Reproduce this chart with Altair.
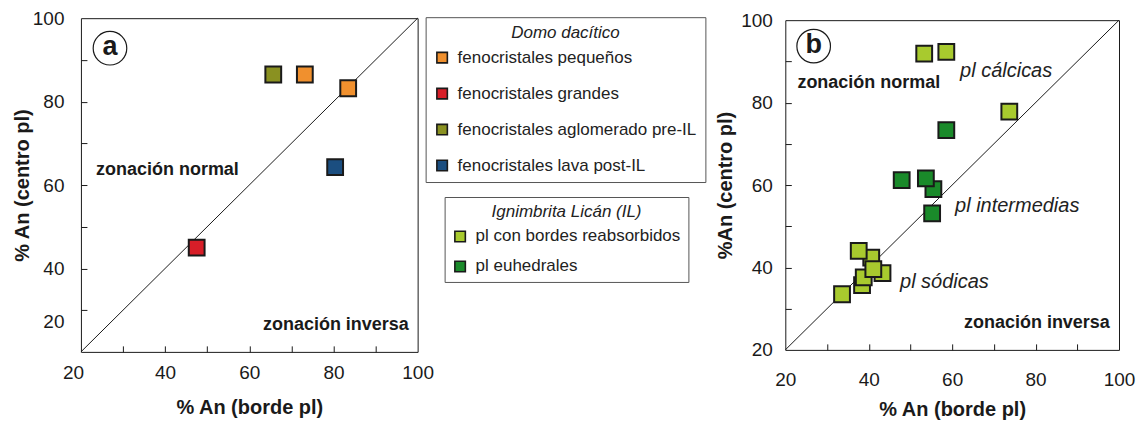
import altair as alt
import pandas as pd

# ---------------- data ----------------
# Panel a: Domo dacítico
a_cat = ["fenocristales pequeños", "fenocristales pequeños", "fenocristales grandes",
         "fenocristales aglomerado pre-IL", "fenocristales lava post-IL"]
a_borde = [73.2, 83.5, 47.5, 65.7, 80.4]
a_centro = [86.5, 83.2, 45.0, 86.5, 64.3]
domo_domain = ["fenocristales pequeños", "fenocristales grandes",
               "fenocristales aglomerado pre-IL", "fenocristales lava post-IL"]
domo_colors = ["#F0902E", "#D81E28", "#8A9121", "#1B4E80"]

# Panel b: Ignimbrita Licán
b_cat = ["pl con bordes reabsorbidos"] * 10 + ["pl euhedrales"] * 5
b_borde = [53.3, 58.6, 73.7, 40.6, 43.3, 38.4, 38.8, 37.6, 41.1, 33.6,
           58.6, 47.9, 55.5, 53.7, 55.2]
b_centro = [91.9, 92.3, 77.8, 42.4, 38.6, 35.7, 37.6, 44.0, 39.6, 33.5,
            73.3, 61.2, 59.0, 61.6, 53.1]
ign_domain = ["pl con bordes reabsorbidos", "pl euhedrales"]
ign_colors = ["#A8CA2E", "#1A8A2A"]

# 1:1 line and axes
diag = [20, 100]
tick_vals = [30, 40, 50, 60, 70, 80, 90]
label_vals = [20, 40, 60, 80, 100]

# annotations (data coordinates)
a_bold_left_txt = ["zonación normal"]
a_bold_left_x = [23.6]
a_bold_left_y = [63.6]
a_bold_right_txt = ["zonación inversa"]
a_bold_right_x = [97.9]
a_bold_right_y = [26.5]
a_letter = ["a"]
a_letter_x = [26.9]
a_letter_y = [92.8]

b_bold_left_txt = ["zonación normal"]
b_bold_left_x = [22.9]
b_bold_left_y = [84.7]
b_bold_right_txt = ["zonación inversa"]
b_bold_right_x = [97.8]
b_bold_right_y = [26.5]
b_ital_txt = ["pl cálcicas", "pl intermedias", "pl sódicas"]
b_ital_x = [61.9, 60.7, 47.5]
b_ital_y = [87.6, 54.8, 36.4]
b_letter = ["b"]
b_letter_x = [26.8]
b_letter_y = [93.7]

FONT = "Liberation Sans"
INK = "#1a1a1a"


def panel(pts, domain, colors, legend, ytitle, xtitle, w, h,
          letter_df, bl_df, br_df, it_df,
          xlabpad, xtitlepad, ylabpad, ytitlepad, ylaboff, xlaboff):
    xs = alt.Scale(domain=[20, 100], nice=False, zero=False)
    ys = alt.Scale(domain=[20, 100], nice=False, zero=False)

    dline = pd.DataFrame({"x": diag, "y": diag})
    line = alt.Chart(dline).mark_line(color=INK, strokeWidth=1).encode(
        x=alt.X("x:Q", scale=xs,
                axis=alt.Axis(values=tick_vals, labels=False, domain=False, grid=False,
                              ticks=True, tickSize=6, offset=-6, title=None,
                              orient="bottom", tickColor=INK, tickWidth=1)),
        y=alt.Y("y:Q", scale=ys,
                axis=alt.Axis(values=tick_vals, labels=False, domain=False, grid=False,
                              ticks=True, tickSize=6, offset=-6, title=None,
                              orient="left", tickColor=INK, tickWidth=1)),
    )

    points = alt.Chart(pts).mark_point(
        shape="square", filled=True, size=250, stroke=INK, strokeWidth=2, opacity=1
    ).encode(
        x=alt.X("x:Q", scale=xs,
                axis=alt.Axis(values=label_vals, ticks=False, domain=False, grid=False,
                              orient="bottom", title=xtitle, labelPadding=xlabpad,
                              titlePadding=xtitlepad, labelFlush=False,
                              labelOffset=alt.expr(xlaboff))),
        y=alt.Y("y:Q", scale=ys,
                axis=alt.Axis(values=label_vals, ticks=False, domain=False, grid=False,
                              orient="left", title=ytitle, labelPadding=ylabpad,
                              titlePadding=ytitlepad, labelFlush=False,
                              labelOffset=alt.expr(ylaboff))),
        color=alt.Color("cat:N", scale=alt.Scale(domain=domain, range=colors),
                        legend=legend),
    )

    circ = alt.Chart(letter_df).mark_point(
        shape="circle", size=1130, filled=True, fill="white", stroke=INK,
        strokeWidth=1.2, opacity=1
    ).encode(x=alt.X("x:Q", scale=xs, axis=None), y=alt.Y("y:Q", scale=ys, axis=None))
    letter = alt.Chart(letter_df).mark_text(
        fontSize=27, fontWeight="bold", color=INK, font=FONT, baseline="middle", dy=-1
    ).encode(x=alt.X("x:Q", scale=xs, axis=None), y=alt.Y("y:Q", scale=ys, axis=None),
             text="t:N")

    bl = alt.Chart(bl_df).mark_text(
        fontSize=18, fontWeight="bold", color=INK, font=FONT, align="left", baseline="middle"
    ).encode(x=alt.X("x:Q", scale=xs, axis=None), y=alt.Y("y:Q", scale=ys, axis=None),
             text="t:N")
    br = alt.Chart(br_df).mark_text(
        fontSize=18, fontWeight="bold", color=INK, font=FONT, align="right", baseline="middle"
    ).encode(x=alt.X("x:Q", scale=xs, axis=None), y=alt.Y("y:Q", scale=ys, axis=None),
             text="t:N")
    layers = [line, bl, br]
    if it_df is not None:
        it = alt.Chart(it_df).mark_text(
            fontSize=20, fontStyle="italic", color="#222", font=FONT, align="left",
            baseline="middle"
        ).encode(x=alt.X("x:Q", scale=xs, axis=None), y=alt.Y("y:Q", scale=ys, axis=None),
                 text="t:N")
        layers.append(it)
    layers += [points, circ, letter]
    return alt.layer(*layers).resolve_axis(x="independent", y="independent").properties(
        width=w, height=h)


def legend(title, lx, ly, rowpad, pad):
    return alt.Legend(
        title=title, orient="none", legendX=lx, legendY=ly, direction="vertical",
        titleFontStyle="italic", titleFontWeight="normal", titleFontSize=17,
        titleFont=FONT, titleColor="#222", titleAnchor="middle", titlePadding=7,
        labelFontSize=17, labelFont=FONT, labelColor="#222", labelLimit=400,
        labelOffset=7, symbolType="square", symbolSize=110,
        symbolStrokeColor=INK, symbolStrokeWidth=1.6, rowPadding=rowpad,
        padding=pad, strokeColor="#555", fillColor="white",
    )


df_a = pd.DataFrame({"x": a_borde, "y": a_centro, "cat": a_cat})
df_b = pd.DataFrame({"x": b_borde, "y": b_centro, "cat": b_cat})

pa = panel(
    df_a, domo_domain, domo_colors, legend("Domo dacítico", 345, -1, 18, 8),
    "% An (centro pl)", "% An (borde pl)", 337, 334,
    pd.DataFrame({"x": a_letter_x, "y": a_letter_y, "t": a_letter}),
    pd.DataFrame({"x": a_bold_left_x, "y": a_bold_left_y, "t": a_bold_left_txt}),
    pd.DataFrame({"x": a_bold_right_x, "y": a_bold_right_y, "t": a_bold_right_txt}),
    None,
    12, 15, 17, 0,
    "datum.value == 20 ? -30 : 0", "datum.value == 20 ? -8 : 0",
)

pb = panel(
    df_b, ign_domain, ign_colors, legend("Ignimbrita Licán (IL)", -341, 177, 12, 7),
    "%An (centro pl)", "% An (borde pl)", 334, 330,
    pd.DataFrame({"x": b_letter_x, "y": b_letter_y, "t": b_letter}),
    pd.DataFrame({"x": b_bold_left_x, "y": b_bold_left_y, "t": b_bold_left_txt}),
    pd.DataFrame({"x": b_bold_right_x, "y": b_bold_right_y, "t": b_bold_right_txt}),
    pd.DataFrame({"x": b_ital_x, "y": b_ital_y, "t": b_ital_txt}),
    21, 10, 13, 5,
    "0", "0",
)

chart = alt.HConcatChart(hconcat=[pa, pb], spacing=368, bounds="flush", center=True).resolve_scale(
    color="independent"
).properties(
    padding={"left": 3, "top": 0, "right": 0, "bottom": 0}
).configure(font=FONT).configure_view(stroke=INK, strokeWidth=1).configure_axis(
    labelFontSize=19, titleFontSize=20, titleFontWeight="bold", labelColor=INK,
    titleColor=INK, labelFont=FONT, titleFont=FONT
)

chart.save("out.html", embed_options={"renderer": "svg", "actions": False})
